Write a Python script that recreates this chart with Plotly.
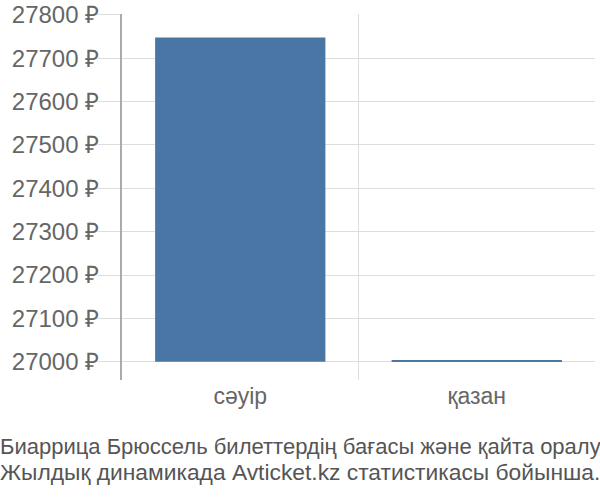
import plotly.graph_objects as go

# данные
months = ["сәуір", "қазан"]
prices = [27748, 27002]
base_price = 27000
y_ticks = [27000, 27100, 27200, 27300, 27400, 27500, 27600, 27700, 27800]
y_labels = [f"{v} ₽" for v in y_ticks]
title_lines = [
    "Биаррица Брюссель билеттердің бағасы және қайта оралу",
    "Жылдық динамикада Avticket.kz статистикасы бойынша.",
]

fig = go.Figure()
fig.add_trace(go.Bar(
    x=months,
    y=[p - base_price for p in prices],
    base=[base_price] * len(prices),
    width=0.72,
    marker=dict(color="#4a76a6", line=dict(width=0)),
    customdata=prices,
    hovertemplate="%{x}: %{customdata} ₽<extra></extra>",
))

fig.update_layout(
    width=600,
    height=500,
    margin=dict(l=122, r=5, t=14, b=120, autoexpand=False),
    paper_bgcolor="white",
    plot_bgcolor="white",
    font=dict(family="Liberation Sans, Arial, sans-serif", color="#666666", size=23),
    showlegend=False,
    xaxis=dict(
        type="category",
        tickson="boundaries",
        showgrid=True,
        gridcolor="#dddddd",
        gridwidth=1,
        ticks="",
        tickfont=dict(size=23, color="#666666"),
        showline=False,
        zeroline=False,
        automargin=False,
        range=[-0.5, 1.5],
    ),
    yaxis=dict(
        range=[26958, 27802],
        tickvals=y_ticks,
        ticktext=y_labels,
        showgrid=True,
        gridcolor="#dddddd",
        ticks="outside",
        ticklen=22,
        tickcolor="#dddddd",
        ticklabelstandoff=-6,
        showline=True,
        linecolor="#aaaaaa",
        linewidth=2,
        zeroline=False,
        automargin=False,
        tickfont=dict(size=24, color="#666666"),
    ),
)

# подпись снизу, две строки
for line, ypos, fsize in zip(title_lines, [-0.183, -0.251], [22, 22.8]):
    fig.add_annotation(
        text=line,
        xref="paper", yref="paper",
        x=-124 / 473, y=ypos,
        xanchor="left", yanchor="middle",
        align="left",
        showarrow=False,
        font=dict(size=fsize, color="#555555"),
    )

fig.write_html(
    "out.html",
    config={"displayModeBar": False},
    post_script="document.body.style.margin='0';",
)
